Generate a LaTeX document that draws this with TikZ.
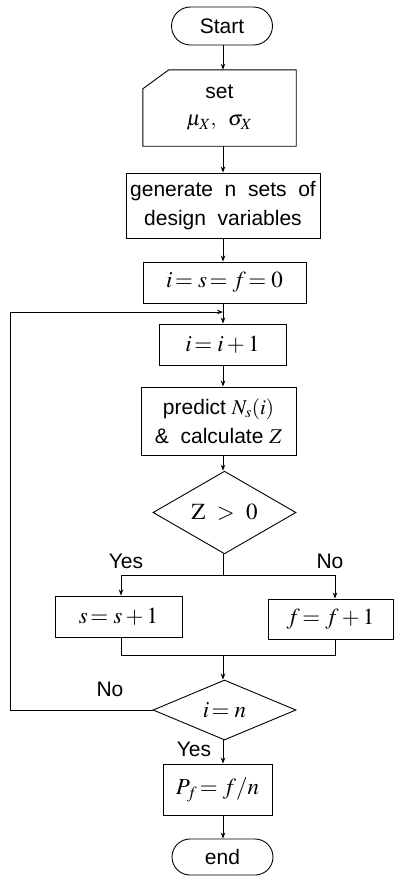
\documentclass[tikz,border=0pt]{standalone}
\usepackage{mathptmx}
\usepackage[no-math]{fontspec}
\setmainfont{Liberation Sans}
\usetikzlibrary{shapes.geometric,shapes.misc,arrows.meta}
\begin{document}
\begin{tikzpicture}[x=1pt,y=-1pt,
  every node/.style={font=\fontsize{21}{29}\selectfont},
  mfont/.style={font=\fontsize{23}{29}\selectfont},
  box/.style={draw, line width=0.9pt, inner sep=0pt, align=center},
  term/.style={rounded rectangle, draw, line width=0.9pt, inner sep=0pt},
  dec/.style={diamond, draw, line width=0.9pt, inner sep=0pt},
  arr/.style={-{Stealth[length=6pt,width=4.5pt]}, line width=0.8pt},
  ln/.style={line width=0.8pt}]
\useasboundingbox (0,0) rectangle (396,876);
\coordinate (ax) at (223,0);
% nodes
\node[term, minimum width=101, minimum height=38] (start) at (222,26) {Start};
\node[inner sep=0pt, minimum width=153, minimum height=76, align=center] (set) at (219.5,108) {set\\[-2pt] $\mu_X,\;\;\sigma_X$};
\draw[line width=0.9pt] ([yshift=-19pt]set.north west) -- ([xshift=26pt]set.north west) -- (set.north east) -- (set.south east) -- (set.south west) -- cycle;
\node[box, minimum width=194, minimum height=65] (gen) at (223,205.5) {generate\ \ n\ \ sets\ \ of\\ design\ \ variables};
\node[box, mfont, minimum width=163, minimum height=41] (init) at (224.5,282.5) {$i\!=s\!=f\!=0$};
\node[box, mfont, minimum width=127, minimum height=41] (incr) at (222.5,344.5) {$i\!=i+1$};
\node[box, minimum width=155, minimum height=68] (pred) at (218.5,421) {predict $N_s(i)$\\ \&\ \ calculate $Z$};
\node[dec, mfont, minimum width=143, minimum height=67] (d1) at (224.5,512.5) {$\mathrm{Z}\ >\ 0$};
\node[box, mfont, minimum width=127, minimum height=41] (sb) at (118.5,616.5) {$s\!=s+1$};
\node[box, mfont, minimum width=125, minimum height=40] (fb) at (330.5,619) {$f\!=f+1$};
\node[dec, mfont, minimum width=143, minimum height=60] (d2) at (224.5,710) {$i\!=n$};
\node[box, mfont, minimum width=109, minimum height=51] (pf) at (217.5,789.5) {$P_f\!=f/n$};
\node[term, minimum width=101, minimum height=36] (end) at (222.5,857) {end};
% labels
\node (yes1) at (126,561) {Yes};
\node (no1) at (330,561) {No};
\node (no2) at (110,689) {No};
\node (yes2) at (194,749) {Yes};
% coordinates
\coordinate (bj) at (223,575);
\coordinate (sl) at (121,575);
\coordinate (fr) at (335,575);
\coordinate (mj) at (223,655);
\coordinate (ml) at (121,655);
\coordinate (mr) at (335,655);
\coordinate (lc) at (10,312);
\coordinate (lj) at (223,312);
% connectors
\draw[arr] (start.south -| ax) -- (set.north -| ax);
\draw[arr] (set.south -| ax) -- (gen.north -| ax);
\draw[arr] (gen.south -| ax) -- (init.north -| ax);
\draw[arr] (init.south -| ax) -- (incr.north -| ax);
\draw[arr] (incr.south -| ax) -- (pred.north -| ax);
\draw[arr] (pred.south -| ax) -- (d1.north -| ax);
\draw[ln] (d1.south -| ax) -- (bj);
\draw[arr] (bj) -- (sl) -- (sl |- sb.north);
\draw[arr] (bj) -- (fr) -- (fr |- fb.north);
\draw[ln] (sl |- sb.south) -- (ml) -- (mr) -- (mr |- fb.south);
\draw[arr] (mj) -- (d2.north -| ax);
\draw[arr] (d2.south -| ax) -- (pf.north -| ax);
\draw[arr] (pf.south -| ax) -- (end.north -| ax);
\draw[arr] (d2.west) -| (lc) -- (lj);
\end{tikzpicture}
\end{document}
